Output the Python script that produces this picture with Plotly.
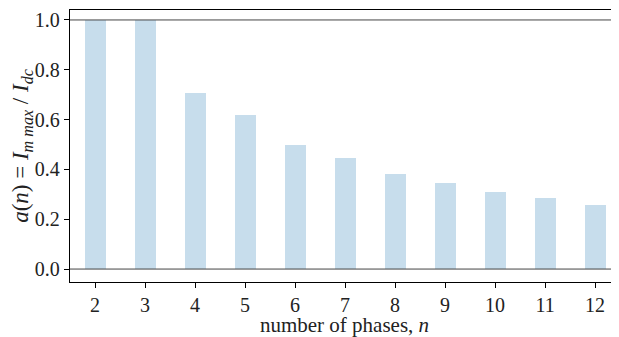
import plotly.graph_objects as go

phases = [2, 3, 4, 5, 6, 7, 8, 9, 10, 11, 12]
ratio = [1.0, 1.0, 0.707, 0.618, 0.5, 0.445, 0.383, 0.347, 0.309, 0.285, 0.259]
x_ticks = phases
y_ticks = [0.0, 0.2, 0.4, 0.6, 0.8, 1.0]
y_tick_labels = ["0.0", "0.2", "0.4", "0.6", "0.8", "1.0"]

FONT = "'Liberation Serif', 'DejaVu Serif', serif"

fig = go.Figure()
fig.add_trace(go.Bar(x=phases, y=ratio, width=0.42,
                     marker=dict(color="#c7ddec", line=dict(width=0)),
                     showlegend=False))
for yv in [0.0, 1.0]:
    fig.add_shape(type="line", xref="paper", x0=0, x1=1, yref="y", y0=yv, y1=yv,
                  line=dict(color="#444444", width=1), layer="above")

# the page body has an 8px margin; size the figure so it fits the 619x337 window
fig.update_layout(
    width=611, height=329,
    margin=dict(l=62, r=0, t=2, b=55),
    plot_bgcolor="white", paper_bgcolor="white",
    font=dict(family=FONT, size=20, color="#222222"),
    bargap=0,
)
fig.update_xaxes(range=[1.5, 12.48], tickvals=x_ticks, ticks="outside", ticklen=5,
                 tickwidth=1.2, tickcolor="black", showline=True, linecolor="black",
                 linewidth=1.3, mirror=True, showgrid=False, zeroline=False,
                 automargin=False, tickfont=dict(family=FONT, size=20),
                 title=dict(text="number of phases, <i>n</i>", standoff=7,
                            font=dict(family=FONT, size=21)))
fig.update_yaxes(range=[-0.052, 1.040], tickvals=y_ticks, ticktext=y_tick_labels,
                 ticks="outside", ticklen=5, tickwidth=1.2, tickcolor="black",
                 showline=True, linecolor="black", linewidth=1.3, showgrid=False,
                 zeroline=False, automargin=False, tickfont=dict(family=FONT, size=20),
                 title=dict(text="<i>a</i>(<i>n</i>) = <i>I</i><sub><i>m max</i></sub> / <i>I</i><sub><i>dc</i></sub>",
                            standoff=12, font=dict(family=FONT, size=23)))

fig.write_html("out.html")
